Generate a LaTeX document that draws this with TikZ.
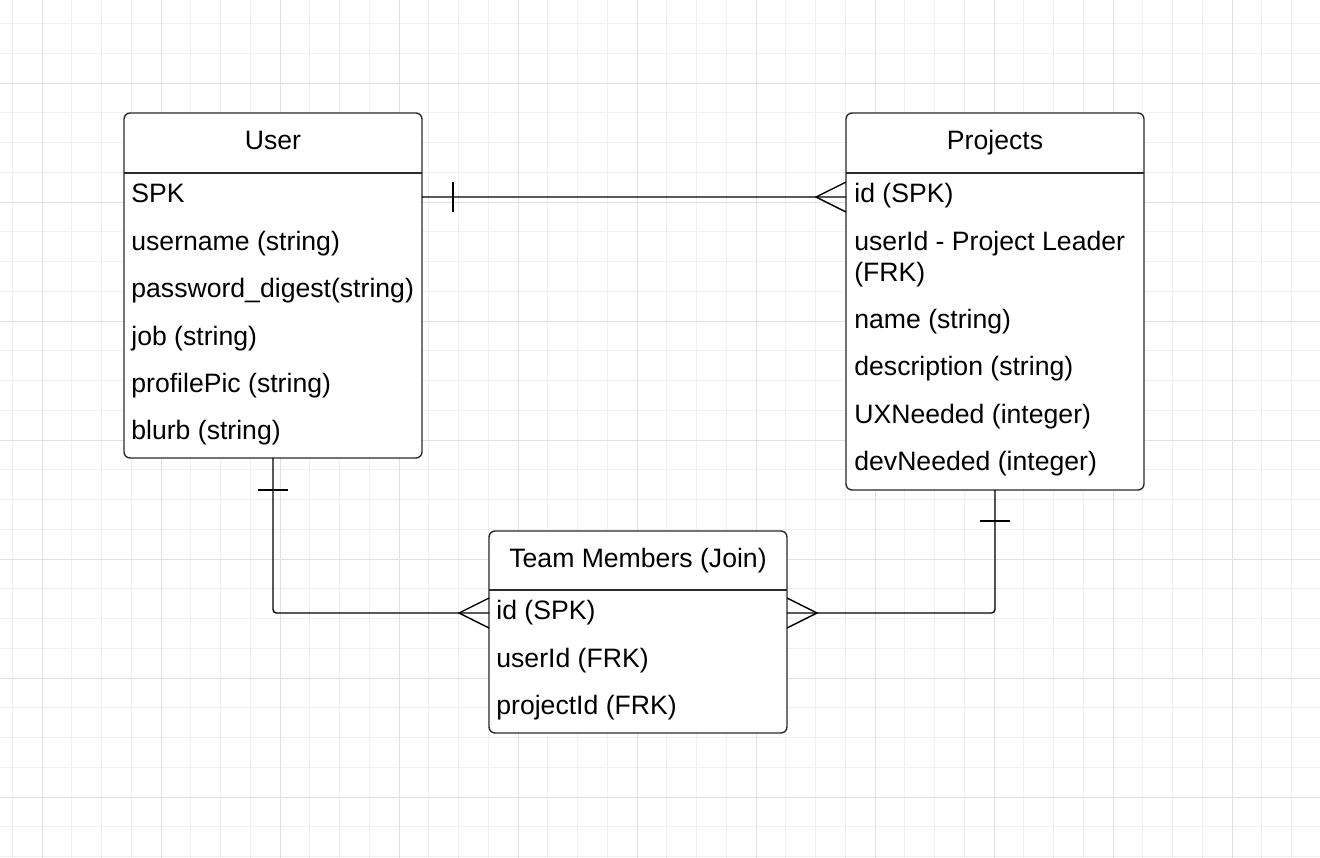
\documentclass[tikz,border=0pt]{standalone}
\usepackage{fontspec}
\setmainfont{Liberation Sans}
\usetikzlibrary{calc}
\definecolor{gridminor}{HTML}{F0F0F0}
\definecolor{gridmajor}{HTML}{E1E1E1}
\definecolor{boxline}{HTML}{2B2B2B}
\tikzset{
  entity/.style={draw=boxline, line width=0.8pt, rounded corners=3.4pt,
    minimum width=5.96cm, inner sep=0, outer sep=0, fill=white},
  title/.style={anchor=base, inner sep=0},
  field/.style={anchor=base west, inner sep=0, align=left},
  relline/.style={line width=0.8pt, draw=black},
}
\begin{document}
\begin{tikzpicture}[x=0.02cm, y=-0.02cm,
  every node/.style={font=\fontsize{15.15}{18}\selectfont}]
   \fill[white] (0,0) rectangle (1320,858);
   \useasboundingbox (0,0) rectangle (1320,858);

   \foreach \gx in {12.25,42,...,1320}
     \draw[gridminor, line width=0.5pt] (\gx,0) -- (\gx,858);
   \foreach \gy in {23.5,53.25,...,858}
     \draw[gridminor, line width=0.5pt] (0,\gy) -- (1320,\gy);
   \foreach \gx in {42,161,...,1320}
     \draw[gridmajor, line width=0.5pt] (\gx,0) -- (\gx,858);
   \foreach \gy in {83,202,...,858}
     \draw[gridmajor, line width=0.5pt] (0,\gy) -- (1320,\gy);

   % User
   \node[entity, minimum height=6.9cm] (user) at (273,285.5) {};
   \draw[boxline, line width=0.8pt]
   ($(user.north west)+(0,60)$) -- ($(user.north east)+(0,60)$);
   \node[title] (userT) at (273,149.5) {User};
   \foreach \t [count=\i] in {SPK, username (string), password\_digest(string),
     job (string), profilePic (string), blurb (string)}
     \node[field] (u\i) at (131,{203+47.4*(\i-1)}) {\t};

   % Projects
   \node[entity, minimum height=7.54cm] (proj) at (995,301.5) {};
   \draw[boxline, line width=0.8pt]
   ($(proj.north west)+(0,60)$) -- ($(proj.north east)+(0,60)$);
   \node[title] (projT) at (995,149.5) {Projects};
   \node[field] (p1) at (854,203) {id (SPK)};
   \node[field] (p2) at (854,282) {userId - Project Leader\\(FRK)};
   \node[field] (p3) at (854,328.5) {name (string)};
   \node[field] (p4) at (854,376) {description (string)};
   \node[field] (p5) at (854,423.5) {UXNeeded (integer)};
   \node[field] (p6) at (854,471) {devNeeded (integer)};

   % Team Members
   \node[entity, minimum height=4.04cm] (team) at (638,632) {};
   \draw[boxline, line width=0.8pt]
   ($(team.north west)+(0,59)$) -- ($(team.north east)+(0,59)$);
   \node[title] (teamT) at (638,567) {Team Members (Join)};
   \node[field] (t1) at (496,620) {id (SPK)};
   \node[field] (t2) at (496,667) {userId (FRK)};
   \node[field] (t3) at (496,714) {projectId (FRK)};

   % relations
   \coordinate (r1a) at ($(user.north east)+(0,84)$);
   \coordinate (r1b) at ($(proj.north west)+(0,84)$);
   \draw[relline] (r1a) -- (r1b);
   \draw[relline] ($(r1a)+(31,-15)$) -- ++(0,30);
   \draw[relline] ($(r1b)+(0,-15)$) -- ++(-30,15) -- ++(30,15);

   \coordinate (r2) at ($(team.north west)+(0,82)$);
   \draw[relline, rounded corners=2pt] (user.south) |- (r2);
   \draw[relline] ($(user.south)+(-15,32)$) -- ++(30,0);
   \draw[relline] ($(r2)+(0,-15)$) -- ++(-30,15) -- ++(30,15);

   \coordinate (r3) at ($(team.north east)+(0,82)$);
   \draw[relline, rounded corners=2pt] (proj.south) |- (r3);
   \draw[relline] ($(proj.south)+(-15,31)$) -- ++(30,0);
   \draw[relline] ($(r3)+(0,-15)$) -- ++(30,15) -- ++(-30,15);
\end{tikzpicture}
\end{document}
